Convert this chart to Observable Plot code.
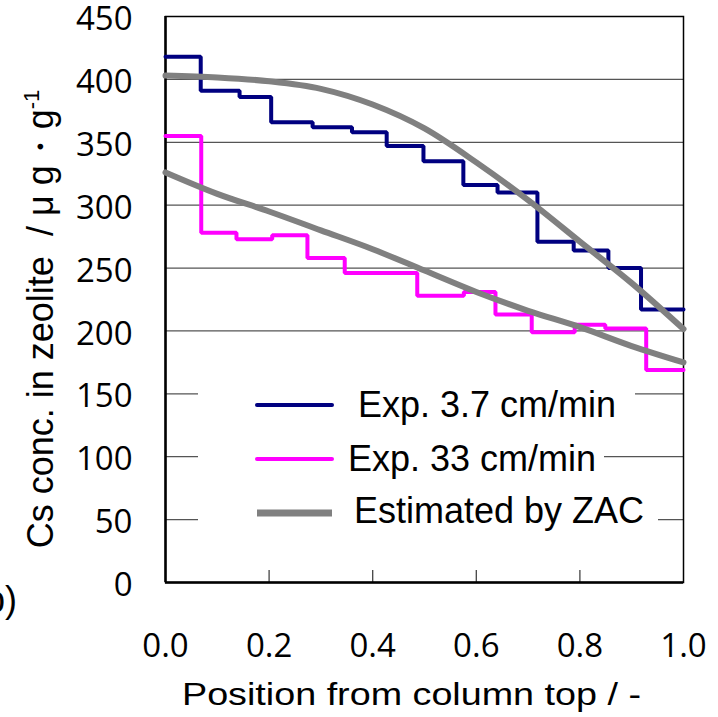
<!DOCTYPE html>
<html><head><meta charset="utf-8">
<script src="https://cdn.jsdelivr.net/npm/d3@7"></script>
<script src="https://cdn.jsdelivr.net/npm/@observablehq/plot@0.6"></script>
<style>html,body{margin:0;padding:0;background:#fff;} #chart{width:718px;height:717px;overflow:hidden;}</style>
</head><body><div id="chart"></div>
<script>
// ---- data ----
const yTicks = [0, 50, 100, 150, 200, 250, 300, 350, 400, 450];
const xTicks = [0, 0.2, 0.4, 0.6, 0.8, 1.0];

// Exp. 3.7 cm/min (step profile: segment start positions and values)
const blueEdges  = [0, 0.068, 0.143, 0.204, 0.284, 0.360, 0.427, 0.498, 0.575, 0.641, 0.718, 0.788, 0.855, 0.918];
const blueValues = [418, 391, 386, 366, 362, 358, 347, 335, 316, 310, 271, 264, 250, 217];

// Exp. 33 cm/min
const magentaEdges  = [0, 0.069, 0.137, 0.206, 0.274, 0.346, 0.486, 0.576, 0.637, 0.707, 0.790, 0.849, 0.928];
const magentaValues = [355, 278, 273, 276, 258, 246, 228, 231, 213, 199, 205, 202, 169];

// Estimated by ZAC (upper curve for 3.7 cm/min, lower for 33 cm/min), read every 0.1
const zacX     = [0, 0.1, 0.2, 0.3, 0.4, 0.5, 0.6, 0.7, 0.8, 0.9, 1.0];
const zacHighY = [403, 401.5, 398.5, 392.5, 380, 361, 334, 304, 271, 238, 201.5];
const zacLowY  = [326, 309, 295, 280, 265, 248, 231, 216, 203, 188, 175];

const legendLabels = ["Exp. 3.7 cm/min", "Exp. 33 cm/min", "Estimated by ZAC"];
const legendColors = ["#000080", "#ff00ff", "#808080"];
const xTitle = "Position from column top / -";
const yTitleMain = "Cs conc. in zeolite  / \u03bc g\u30fbg";
const yTitleSup = "-1";
const panelLabel = "(b)";

// ---- build ----
function steps(edges, values) {
  const pts = edges.map((x, i) => ({x, y: values[i]}));
  pts.push({x: 1, y: values[values.length - 1]});
  return pts;
}
function pairs(xs, ys) { return xs.map((x, i) => ({x, y: ys[i]})); }

const W = 718, H = 717, mL = 165, mR = 35, mT = 16, mB = 135;
const innerH = H - mT - mB;

const chart = Plot.plot({
  width: W, height: H,
  marginLeft: mL, marginRight: mR, marginTop: mT, marginBottom: mB,
  style: {fontFamily: "'Open Sans', sans-serif", fontSize: "33px", color: "#000", background: "#fff", overflow: "visible"},
  x: {domain: [0, 1]},
  y: {domain: [0, 450]},
  marks: [
    Plot.gridY(yTicks.filter(v => v > 0 && v < 450), {stroke: "#555", strokeOpacity: 1, strokeWidth: 1.2}),
    Plot.axisY(yTicks, {tickSize: 0, tickPadding: 33, fontSize: 33, dy: 3, label: null}),
    Plot.axisX(xTicks, {tickSize: 0, tickPadding: 51, tickFormat: d3.format(".1f"), fontSize: 33, label: null}),
    Plot.tickX(xTicks.filter(v => v > 0 && v < 1), {x: d => d, stroke: "#444", strokeWidth: 1.3, insetTop: innerH - 12}),
    Plot.frame({stroke: "#000", strokeWidth: 1.5}),
    Plot.ruleX([0], {stroke: "#000", strokeWidth: 2.5}),
    Plot.ruleY([0], {stroke: "#000", strokeWidth: 2.5}),
    Plot.line(steps(blueEdges, blueValues), {x: "x", y: "y", curve: "step-after", stroke: legendColors[0], strokeWidth: 4, strokeLinejoin: "miter"}),
    Plot.line(steps(magentaEdges, magentaValues), {x: "x", y: "y", curve: "step-after", stroke: legendColors[1], strokeWidth: 4, strokeLinejoin: "miter"}),
    Plot.line(pairs(zacX, zacHighY), {x: "x", y: "y", curve: "monotone-x", stroke: legendColors[2], strokeWidth: 6}),
    Plot.line(pairs(zacX, zacLowY), {x: "x", y: "y", curve: "monotone-x", stroke: legendColors[2], strokeWidth: 6})
  ]
});
document.getElementById("chart").appendChild(chart);

const svg = d3.select(chart);
const sans = "'Liberation Sans', Arial, sans-serif";

// legend rows with white background
const rows = [
  {lineY: 405, textX: 358, base: 417, bgRight: 635, w: 4},
  {lineY: 459, textX: 348, base: 471, bgRight: 604, w: 4},
  {lineY: 513, textX: 354, base: 523, bgRight: 658, w: 7}
];
const lg = svg.append("g").attr("text-anchor", "start");
rows.forEach((r, i) => {
  lg.append("rect").attr("x", 198).attr("y", r.lineY - 22).attr("width", r.bgRight - 198).attr("height", 44).attr("fill", "#fff");
  lg.append("line").attr("x1", 257).attr("x2", 332).attr("y1", r.lineY).attr("y2", r.lineY)
    .attr("stroke", legendColors[i]).attr("stroke-width", r.w).attr("stroke-linecap", i < 2 ? "round" : "butt");
  lg.append("text").attr("x", r.textX).attr("y", r.base).attr("text-anchor", "start")
    .attr("font-family", sans).attr("font-size", 36).attr("fill", "#000").text(legendLabels[i]);
});

// x title
svg.append("text").attr("x", 182).attr("y", 705).attr("text-anchor", "start").attr("font-family", sans).attr("font-size", 31)
  .attr("textLength", 459).attr("lengthAdjust", "spacingAndGlyphs").attr("fill", "#000").text(xTitle);

// y title
const yt = svg.append("text").attr("transform", "translate(53,319) rotate(-90)").attr("text-anchor", "middle")
  .attr("font-family", sans).attr("font-size", 36).attr("fill", "#000");
yt.append("tspan").text(yTitleMain);
yt.append("tspan").attr("font-size", 22).attr("dy", -14).text(yTitleSup);

// cut-off panel label
svg.append("text").attr("x", 17).attr("y", 612).attr("text-anchor", "end").attr("font-family", sans)
  .attr("font-size", 36).attr("fill", "#000").text(panelLabel);
</script>
</body></html>
